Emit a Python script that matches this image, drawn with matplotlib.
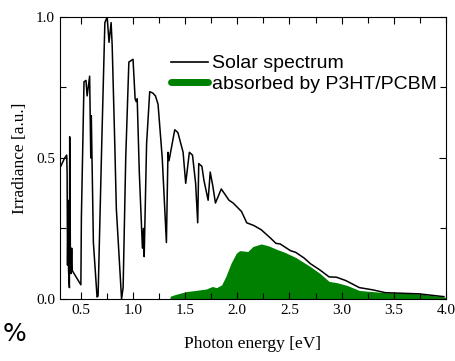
import matplotlib
matplotlib.use("Agg")
import matplotlib.pyplot as plt
from matplotlib.lines import Line2D
from matplotlib.ticker import MultipleLocator

# solar spectrum (photon energy [eV], normalised irradiance)
solar_e = [0.30, 0.345, 0.364, 0.368, 0.372, 0.378, 0.382, 0.390, 0.393, 0.400,
           0.405, 0.412, 0.418, 0.50, 0.505, 0.53, 0.549, 0.560, 0.584, 0.595,
           0.600, 0.62, 0.655, 0.665, 0.70, 0.73, 0.752, 0.77, 0.79, 0.80,
           0.825, 0.84, 0.89, 0.905, 0.93, 0.96, 1.00, 1.02, 1.03, 1.04,
           1.06, 1.09, 1.10, 1.107, 1.13, 1.16, 1.19, 1.215, 1.24, 1.28,
           1.32, 1.335, 1.345, 1.36, 1.40, 1.43, 1.48, 1.505, 1.54, 1.57,
           1.60, 1.62, 1.63, 1.66, 1.68, 1.72, 1.74, 1.765, 1.79, 1.846,
           1.92, 1.96, 2.04, 2.09, 2.16, 2.23, 2.32, 2.37, 2.41, 2.51,
           2.56, 2.64, 2.70, 2.79, 2.88, 2.95, 3.04, 3.17, 3.30, 3.42,
           3.74, 3.98]
solar_i = [0.465, 0.50, 0.51, 0.45, 0.12, 0.35, 0.10, 0.04, 0.575, 0.12,
           0.09, 0.18, 0.10, 0.05, 0.29, 0.77, 0.775, 0.72, 0.79, 0.50,
           0.65, 0.20, 0.007, 0.01, 0.55, 0.98, 1.00, 0.91, 0.98, 0.90,
           0.55, 0.32, 0.00, 0.04, 0.50, 0.84, 0.85, 0.71, 0.70, 0.71,
           0.45, 0.18, 0.25, 0.15, 0.55, 0.735, 0.73, 0.72, 0.69, 0.50,
           0.20, 0.52, 0.49, 0.52, 0.60, 0.59, 0.52, 0.41, 0.52, 0.51,
           0.41, 0.27, 0.48, 0.47, 0.42, 0.35, 0.45, 0.40, 0.34, 0.39,
           0.35, 0.34, 0.31, 0.27, 0.26, 0.245, 0.215, 0.197, 0.195, 0.171,
           0.165, 0.145, 0.125, 0.103, 0.078, 0.077, 0.065, 0.04, 0.032, 0.022,
           0.018, 0.008]

# part absorbed by P3HT/PCBM
abs_e = [1.35, 1.36, 1.40, 1.51, 1.60, 1.70, 1.76, 1.80, 1.85, 1.89,
         1.94, 1.99, 2.02, 2.06, 2.10, 2.15, 2.23, 2.30, 2.39, 2.45,
         2.56, 2.69, 2.79, 2.88, 2.95, 3.05, 3.17, 3.42, 3.74, 3.98, 4.0]
abs_i = [0.0, 0.01, 0.015, 0.026, 0.030, 0.035, 0.044, 0.040, 0.05, 0.08,
         0.127, 0.162, 0.171, 0.170, 0.168, 0.186, 0.195, 0.188, 0.174, 0.166,
         0.147, 0.117, 0.091, 0.062, 0.058, 0.048, 0.030, 0.022, 0.018, 0.007, 0.005]

fig = plt.figure(figsize=(4.56, 3.61), dpi=100)
ax = fig.add_axes([0.1316, 0.172, 0.8464, 0.781])

ax.fill_between(abs_e, abs_i, 0, color='green', lw=0)
ax.plot(solar_e, solar_i, color='black', lw=1.1)

ax.set_xlim(0.3, 4.0)
ax.set_ylim(0, 1.0)
ax.xaxis.set_minor_locator(MultipleLocator(0.25))
ax.yaxis.set_minor_locator(MultipleLocator(0.25))
ax.tick_params(which='both', direction='in', top=True, right=True, width=0.8)
ax.tick_params(which='major', length=5)
ax.tick_params(which='minor', length=4)
ax.set_xticks([0.5, 1.0, 1.5, 2.0, 2.5, 3.0, 3.5, 4.0])
ax.set_xticklabels(['0.5', '1.0', '1.5', '2.0', '2.5', '3.0', '3.5', '4.0'],
                   family='Liberation Serif', fontsize=11)
ax.set_yticks([0.0, 0.5, 1.0])
ax.set_yticklabels(['0.0', '0.5', '1.0'], family='Liberation Serif', fontsize=11)

ax.set_xlabel('Photon energy [eV]', family='Liberation Serif', fontsize=12.5, labelpad=14)
ax.set_ylabel('Irradiance [a.u.]', family='Liberation Serif', fontsize=12.5, labelpad=6)

handles = [Line2D([], [], color='black', lw=1.2),
           Line2D([], [], color='green', lw=5, solid_capstyle='round')]
ax.legend(handles, ['Solar spectrum', 'absorbed by P3HT/PCBM'],
          loc='upper left', bbox_to_anchor=(0.262, 0.90), frameon=False,
          prop={'family': 'Liberation Sans', 'size': 14},
          handlelength=1.9, handletextpad=0.2, labelspacing=0.15, borderpad=0)

fig.text(0.005, 0.055, '%', family='DejaVu Sans', fontsize=18)

fig.savefig('out.png', dpi=100)
